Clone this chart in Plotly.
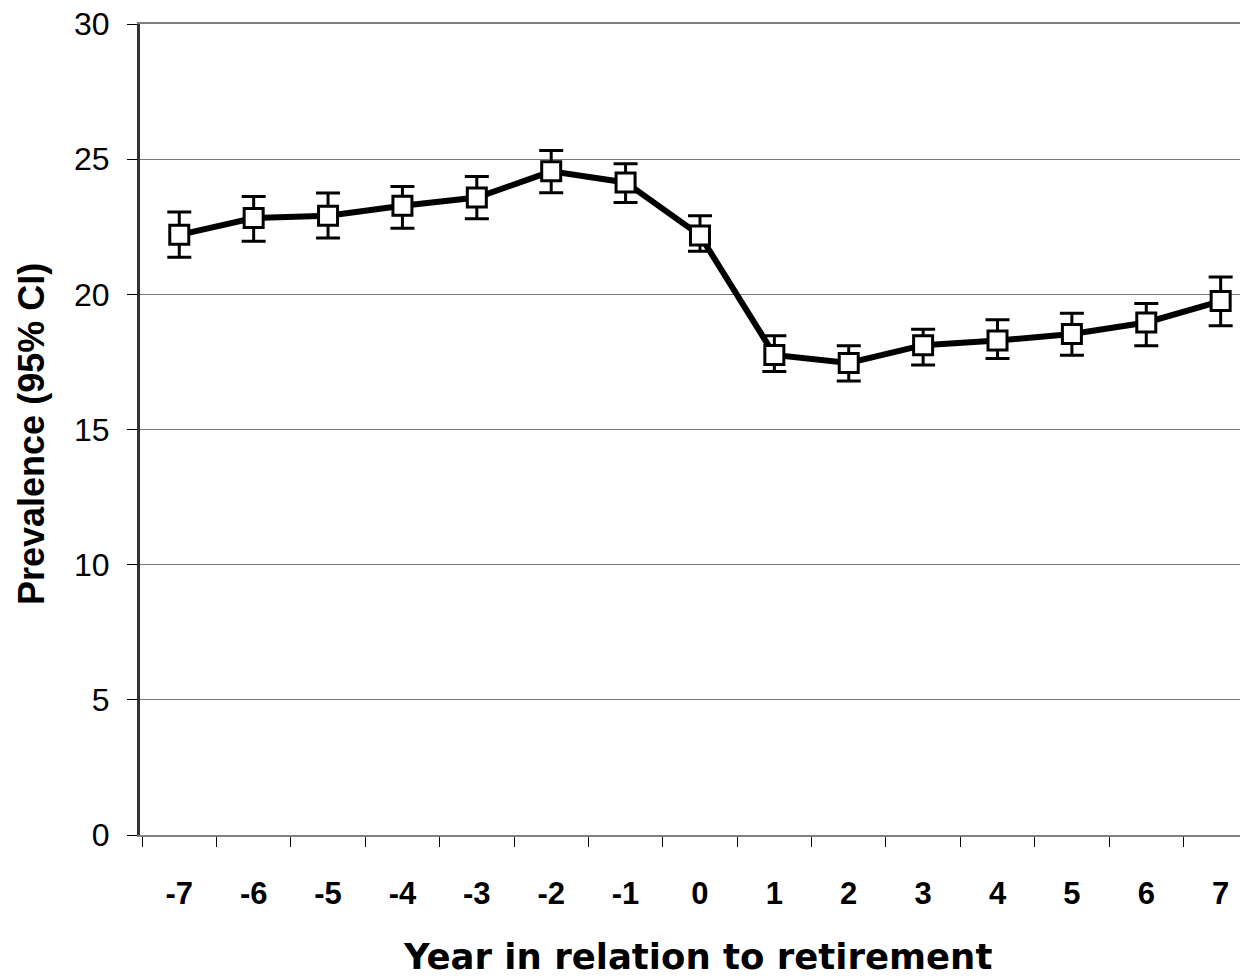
import plotly.graph_objects as go

years = ["-7", "-6", "-5", "-4", "-3", "-2", "-1", "0", "1", "2", "3", "4", "5", "6", "7"]
prevalence = [22.2, 22.82, 22.91, 23.28, 23.58, 24.55, 24.14, 22.18, 17.76, 17.46, 18.12, 18.29, 18.53, 18.96, 19.75]
ci_upper = [23.05, 23.62, 23.75, 23.99, 24.36, 25.32, 24.83, 22.91, 18.47, 18.10, 18.71, 19.06, 19.30, 19.66, 20.64]
ci_lower = [21.37, 21.96, 22.08, 22.44, 22.80, 23.76, 23.40, 21.59, 17.15, 16.79, 17.39, 17.63, 17.75, 18.10, 18.84]
y_ticks = [0, 5, 10, 15, 20, 25, 30]

err_plus = [u - v for u, v in zip(ci_upper, prevalence)]
err_minus = [v - l for v, l in zip(prevalence, ci_lower)]

fig = go.Figure()
fig.add_trace(go.Scatter(
    x=years, y=prevalence, mode="lines+markers",
    line=dict(color="black", width=6),
    marker=dict(symbol="square", size=19, color="white", line=dict(color="black", width=3)),
    error_y=dict(type="data", symmetric=False, array=err_plus, arrayminus=err_minus,
                 color="black", thickness=3, width=12),
    showlegend=False,
    cliponaxis=True,
))

fig.update_layout(
    width=1240, height=979,
    margin=dict(l=140, r=0, t=24, b=144, pad=0),
    paper_bgcolor="white", plot_bgcolor="white",
    font=dict(family="Liberation Sans, Arial, sans-serif", color="black"),
    xaxis=dict(
        type="category", range=[-0.528, 14.26],
        tickson="boundaries", ticks="outside", ticklen=10, tickwidth=1, tickcolor="black",
        showline=True, linecolor="#808080", linewidth=2, mirror=True,
        showgrid=False, zeroline=False,
        tickfont=dict(family="Liberation Sans, Arial, sans-serif", size=31, color="black", weight="bold"),
        ticklabelstandoff=30,
    ),
    yaxis=dict(
        range=[0, 30], tickvals=y_ticks,
        ticks="outside", ticklen=10, tickwidth=1, tickcolor="black",
        showline=True, linecolor="#333333", linewidth=3,
        showgrid=True, gridcolor="#777777", gridwidth=1, zeroline=False,
        tickfont=dict(family="Liberation Sans, Arial, sans-serif", size=32, color="black"),
        ticklabelstandoff=11,
    ),
    annotations=[
        dict(text="<b>Prevalence (95% CI)</b>", xref="paper", yref="paper",
             x=-140/1100 + 31/1100, y=(835-434)/811, textangle=-90,
             showarrow=False, xanchor="center", yanchor="middle",
             font=dict(family="Liberation Sans, Arial, sans-serif", size=36, color="black")),
        dict(text="<b>Year in relation to retirement</b>", xref="paper", yref="paper",
             x=(697-140)/1100, y=(835-957)/811,
             showarrow=False, xanchor="center", yanchor="middle",
             font=dict(family="DejaVu Sans, sans-serif", size=35.5, color="black")),
    ],
)

fig.write_html("out.html")
